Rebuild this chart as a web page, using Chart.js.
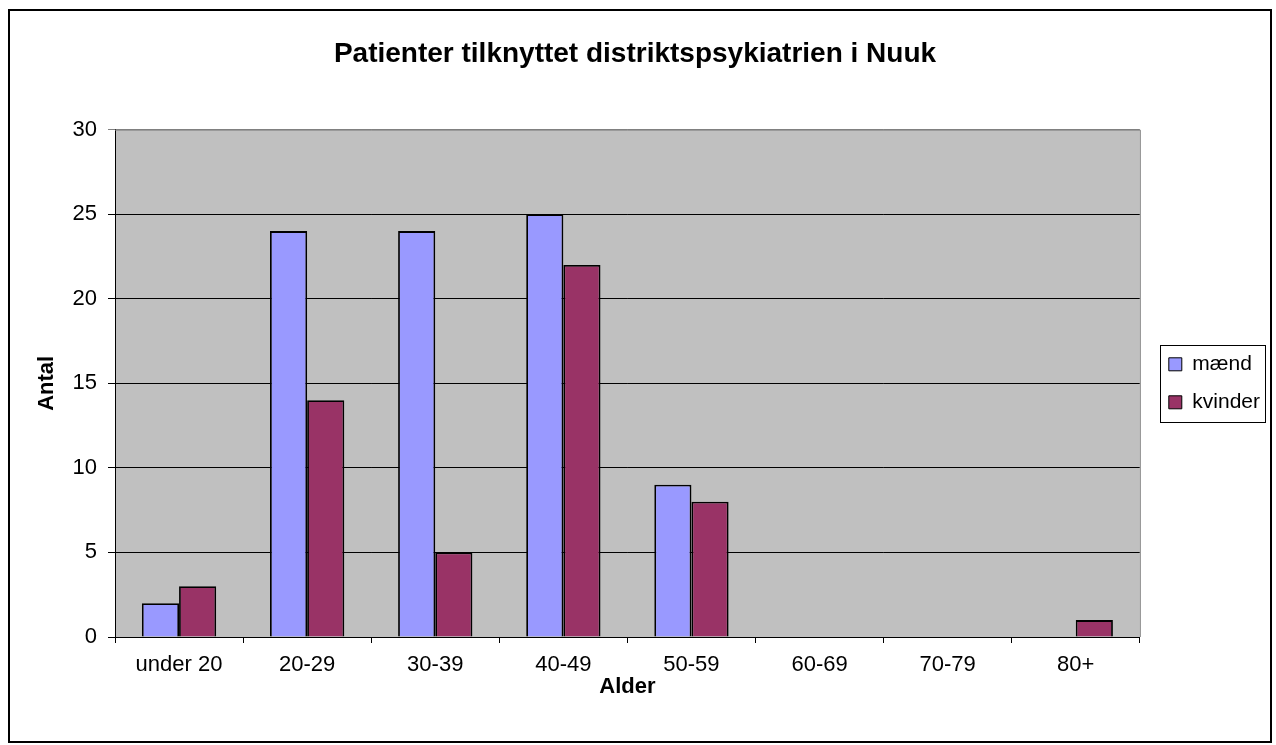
<!DOCTYPE html>
<html>
<head>
<meta charset="utf-8">
<script src="https://cdn.jsdelivr.net/npm/chart.js@4/dist/chart.umd.min.js"></script>
<style>
  html, body { margin: 0; padding: 0; background: #fff; }
  #wrap { width: 1276px; height: 745px; }
</style>
</head>
<body>
<div id="wrap"><canvas id="chart" width="1276" height="745"></canvas></div>
<script>
const ageGroups = ['under 20', '20-29', '30-39', '40-49', '50-59', '60-69', '70-79', '80+'];
const maend = [2, 24, 24, 25, 9, 0, 0, 0];
const kvinder = [3, 14, 5, 22, 8, 0, 0, 1];
const seriesNames = ['mænd', 'kvinder'];
const seriesColors = ['#9999FF', '#993366'];

const FONT = "'Liberation Sans', Arial, sans-serif";

// grey plot background, frame, outer border and legend box
const framePlugin = {
  id: 'frame',
  beforeDraw: (chart) => {
    const { ctx, chartArea: a } = chart;
    ctx.save();
    ctx.fillStyle = '#fff';
    ctx.fillRect(0, 0, chart.width, chart.height);
    ctx.fillStyle = '#C0C0C0';
    ctx.fillRect(a.left, a.top, a.right - a.left, a.bottom - a.top);
    ctx.restore();
  },
  afterDraw: (chart) => {
    const { ctx, chartArea: a } = chart;
    ctx.save();
    ctx.strokeStyle = '#808080';
    ctx.lineWidth = 1;
    ctx.beginPath();
    ctx.moveTo(a.left, a.top + 0.5);
    ctx.lineTo(a.right + 0.5, a.top + 0.5);
    ctx.lineTo(a.right + 0.5, a.bottom);
    ctx.stroke();
    ctx.strokeStyle = '#000';
    ctx.lineWidth = 2;
    ctx.strokeRect(9, 10, 1262, 732);
    const boxes = chart.legend.legendHitBoxes;
    if (boxes && boxes.length) {
      const l = Math.min(...boxes.map((b) => b.left)) - 9;
      const t = Math.min(...boxes.map((b) => b.top)) - 9;
      const r = Math.max(...boxes.map((b) => b.left + b.width)) + 5;
      const btm = Math.max(...boxes.map((b) => b.top + b.height)) + 9;
      ctx.lineWidth = 1;
      ctx.strokeRect(Math.round(l) + 0.5, Math.round(t) + 0.5, Math.round(r - l), Math.round(btm - t));
    }
    ctx.restore();
  },
};

const chart = new Chart(document.getElementById('chart'), {
  type: 'bar',
  data: {
    labels: ageGroups,
    datasets: [maend, kvinder].map((values, i) => ({
      label: seriesNames[i],
      data: values,
      backgroundColor: seriesColors[i],
      borderColor: '#000',
      borderWidth: 1.8,
      categoryPercentage: 0.58,
      barPercentage: 1,
    })),
  },
  options: {
    responsive: false,
    animation: false,
    devicePixelRatio: 1,
    layout: { padding: { top: 0, left: 0, bottom: 0, right: 6 } },
    plugins: {
      title: {
        display: true,
        text: 'Patienter tilknyttet distriktspsykiatrien i Nuuk',
        color: '#000',
        font: { family: FONT, size: 28, weight: 'bold' },
        padding: { top: 37, bottom: 59 },
      },
      legend: {
        position: 'right',
        fullSize: false,
        labels: {
          color: '#000',
          font: { family: FONT, size: 21 },
          boxWidth: 13,
          boxHeight: 13,
          padding: 17,
          generateLabels: (c) => c.data.datasets.map((ds, i) => ({
            text: ds.label,
            fillStyle: ds.backgroundColor,
            strokeStyle: '#000',
            lineWidth: 1,
            datasetIndex: i,
          })),
        },
      },
      tooltip: { enabled: false },
    },
    scales: {
      x: {
        grid: {
          display: true,
          drawOnChartArea: false,
          offset: true,
          tickLength: 6,
          color: '#000',
        },
        border: { color: '#000', width: 1 },
        ticks: { color: '#000', font: { family: FONT, size: 22 }, padding: 9, maxRotation: 0 },
        title: {
          display: true,
          text: 'Alder',
          color: '#000',
          font: { family: FONT, size: 22, weight: 'bold' },
          padding: { top: 0, bottom: 45 },
        },
        afterFit: (scale) => { scale.height = 108; },
      },
      y: {
        min: 0,
        max: 30,
        ticks: { stepSize: 5, color: '#000', font: { family: FONT, size: 22 }, padding: 11 },
        grid: {
          color: (ctx) => (ctx.tick && ctx.tick.value === 30 ? '#808080' : '#000'),
          tickLength: 7,
        },
        border: { color: '#000', width: 1 },
        title: {
          display: true,
          text: 'Antal',
          color: '#000',
          font: { family: FONT, size: 22, weight: 'bold' },
          padding: { top: 34, bottom: 0 },
        },
        afterFit: (scale) => { scale.width = 115; },
      },
      gap: {
        type: 'linear',
        position: 'right',
        display: true,
        grid: { display: false },
        ticks: { display: false },
        border: { display: false },
        afterFit: (scale) => { scale.width = 12; },
      },
    },
  },
  plugins: [framePlugin],
});
</script>
</body>
</html>
